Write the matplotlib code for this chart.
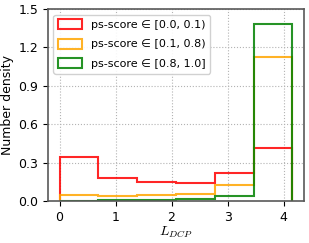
import numpy as np
import matplotlib
matplotlib.use("Agg")
import matplotlib.pyplot as plt

# bin edges: 6 bins of width ln2
edges = np.log(2) * np.arange(7)
labels = ["ps-score ∈ [0.0, 0.1)", "ps-score ∈ [0.1, 0.8)", "ps-score ∈ [0.8, 1.0]"]
colors = ["red", "orange", "green"]
dens_low = [0.346, 0.177, 0.148, 0.141, 0.221, 0.416]
dens_mid = [0.047, 0.037, 0.049, 0.057, 0.123, 1.123]
dens_high = [0.003, 0.005, 0.008, 0.013, 0.037, 1.383]

plt.rcParams['mathtext.fontset'] = 'cm'
fig = plt.figure(figsize=(3.09, 2.43), dpi=100)
ax = fig.add_axes([0.155, 0.173, 0.829, 0.790])

centers = 0.5 * (edges[:-1] + edges[1:])
for vals, c, lab in zip([dens_low, dens_mid, dens_high], colors, labels):
    ax.hist(centers, bins=edges, weights=vals, histtype='step', color=c,
            lw=1.5, alpha=0.85, label=lab)

ax.set_ylim(0, 1.5)
ax.set_yticks([0, 0.3, 0.6, 0.9, 1.2, 1.5])
ax.set_xticks([0, 1, 2, 3, 4])
ax.grid(True, ls=':', color='0.7', lw=0.8)
ax.set_axisbelow(True)
ax.tick_params(labelsize=9)
ax.set_ylabel("Number density", fontsize=9, labelpad=3)
ax.set_xlabel(r"$L_{DCP}$", fontsize=10, labelpad=1)
ax.legend(loc='upper left', fontsize=8, framealpha=0.9, labelspacing=0.8,
          handleheight=1.0, handlelength=2.2)
for s in ax.spines.values():
    s.set_color('0.35')
    s.set_linewidth(1.2)

fig.savefig("out.png", dpi=100)
